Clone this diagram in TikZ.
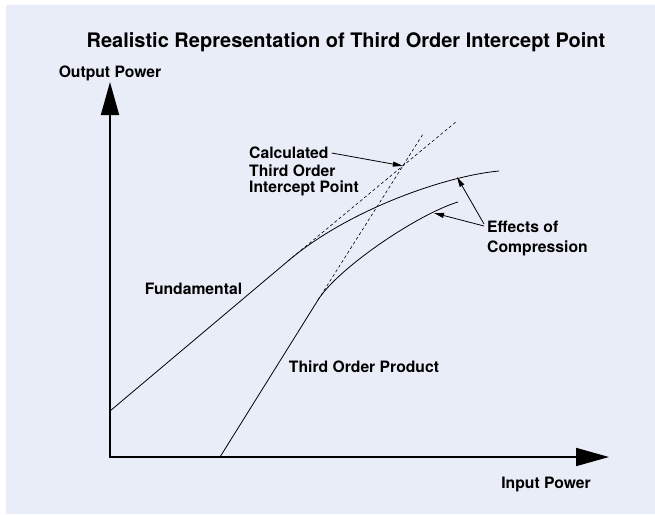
\documentclass[tikz,border=0pt]{standalone}
\usepackage{fontspec}
\setmainfont{TeX Gyre Heros}
\usetikzlibrary{arrows.meta,positioning}
\definecolor{panel}{RGB}{233,237,248}
\tikzset{
  lbl/.style={font=\fontsize{15.7}{16.5}\selectfont\bfseries, inner sep=0pt, align=left},
  heading/.style={font=\fontsize{20}{24}\selectfont\bfseries, inner sep=0pt},
  curve/.style={line width=0.8pt},
  asymp/.style={line width=0.6pt, dash pattern=on 3pt off 2.5pt},
  pointer/.style={line width=0.8pt, -{Triangle[length=10pt,width=5pt]}},
  axis/.style={line width=1.8pt, {Triangle[length=33pt,width=18pt]}-{Triangle[length=33pt,width=18pt]}}
}

\begin{document}
\begin{tikzpicture}[x=1pt,y=-1pt]
\useasboundingbox (0,0) rectangle (655,514);
\fill[panel] (6,5) rectangle (655,514);

\coordinate (O) at (110,457);
\coordinate (ytip) at (110,82);
\coordinate (xtip) at (609,457);
\draw[axis] (ytip) -- (O) -- (xtip);

\coordinate (f0) at (110,411);
\coordinate (fk) at (288,261);
\coordinate (fend) at (499,171);
\coordinate (fdash) at (457,121);
\coordinate (t0) at (220,457);
\coordinate (tk) at (318,300);
\coordinate (tend) at (458,202);
\coordinate (tdash) at (423,134);
\coordinate (ip) at (intersection of fk--fdash and tk--tdash);
\coordinate (comp1) at (457,177);
\coordinate (comp2) at (434,213);

\draw[curve] (f0) -- (fk) .. controls (348,210) and (445,176) .. (fend);
\draw[asymp] (fk) -- (fdash);
\draw[curve] (t0) -- (tk) .. controls (338,268) and (418,214) .. (tend);
\draw[asymp] (tk) -- (tdash);

\node[heading] (title) at (346,42) {Realistic Representation of Third Order Intercept Point};
\node[lbl] (ylab) at (110,73) {Output Power};
\node[lbl] (xlab) at (546,484) {Input Power};
\node[lbl] (fund) at (193.5,289) {Fundamental};
\node[lbl] (third) at (364,367) {Third Order Product};
\node[lbl, anchor=west] (calc) at (249,153) {Calculated};
\node[lbl, below=5pt of calc.south west, anchor=north west] (calc2) {Third Order\\Intercept Point};
\node[lbl, anchor=north west] (effects) at (487,221) {Effects of\\[3pt]Compression};

\draw[pointer] ([xshift=3pt]calc.east) -- (ip);
\draw[pointer] ([shift={(-3pt,-3pt)}]effects.north west) -- (comp1);
\draw[pointer] ([shift={(-3pt,-5pt)}]effects.north west) -- (comp2);
\end{tikzpicture}
\end{document}
